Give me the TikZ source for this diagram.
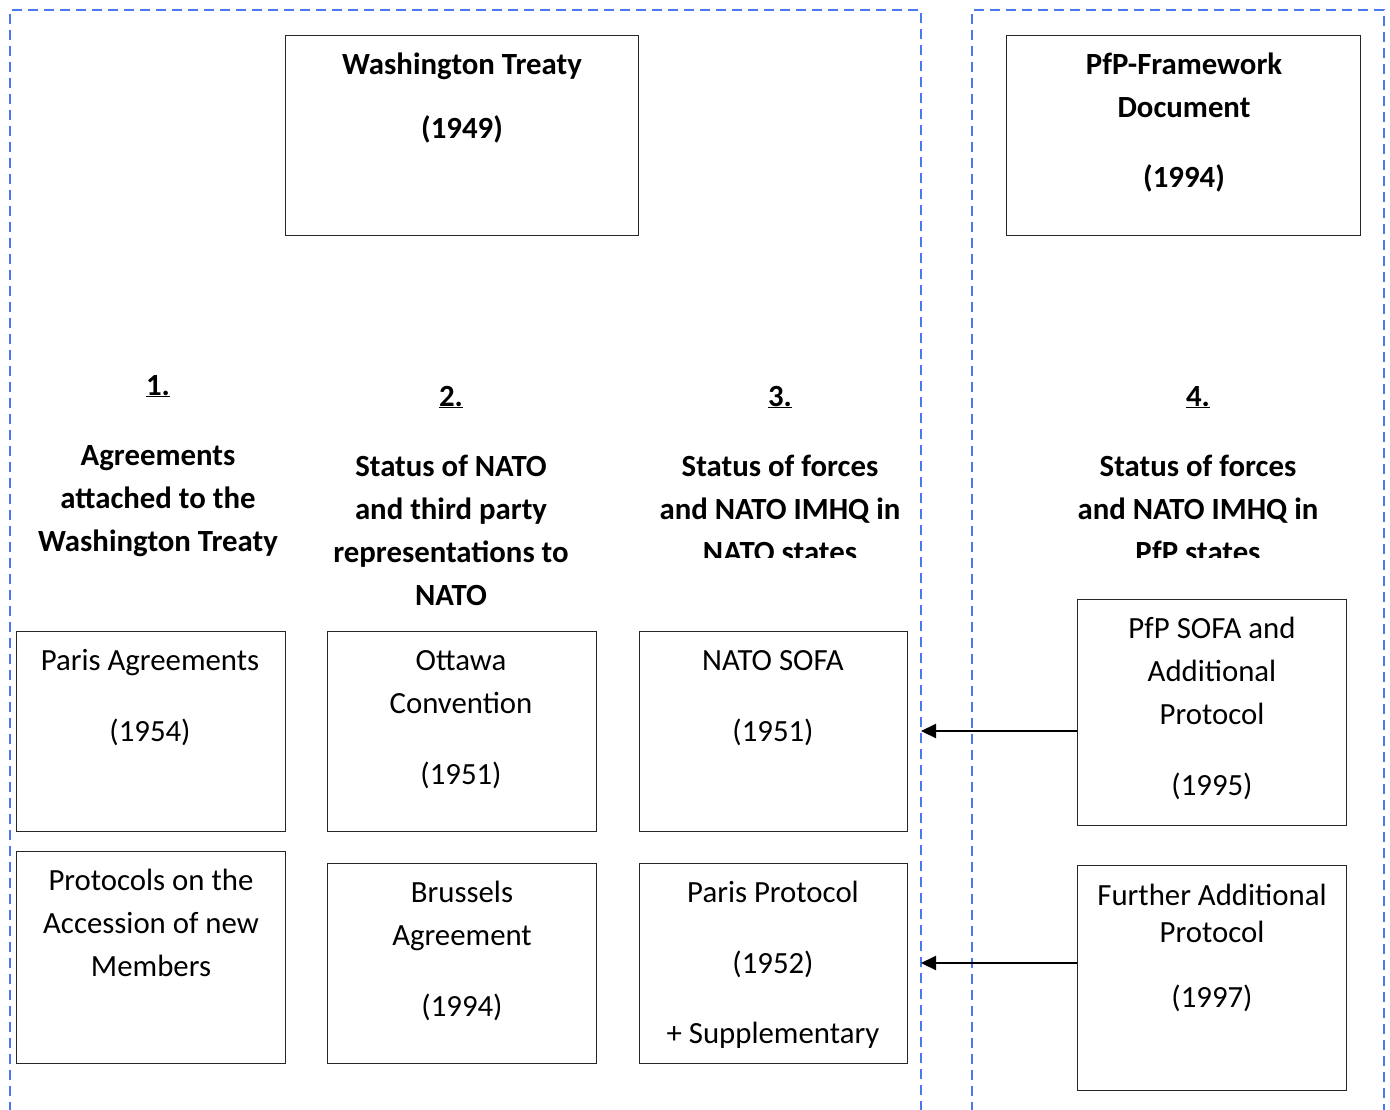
\documentclass[tikz,border=0pt]{standalone}
\usepackage{fontspec}
\setmainfont{Carlito}
\usetikzlibrary{arrows.meta}
\definecolor{frameblue}{HTML}{4A78F0}
\begin{document}
\begin{tikzpicture}[x=1pt,y=-1pt,
  frame/.style={draw=frameblue,line width=1.8pt,dash pattern=on 10pt off 6pt},
  box/.style={draw=black!85,line width=1.3pt,anchor=north west,inner sep=0pt},
  tx/.style={anchor=base,inner sep=0pt,font=\fontsize{30.8}{43}\selectfont},
  tb/.style={tx,font=\fontsize{30.8}{43}\selectfont\bfseries},
  arr/.style={line width=2.2pt,-{Triangle[length=15pt,width=14pt]}}]
\useasboundingbox (0,0) rectangle (1390,1110);
% frames
\draw[frame] (10,1112) -- (10,10) -- (921,10) -- (921,1112);
\draw[frame] (972,1112) -- (972,10) -- (1384,10) -- (1384,1112);
% top boxes
\node[box,minimum width=353pt,minimum height=200pt] (wt) at (285,35) {};
\node[tb] (wt1) at (462,75) {Washington Treaty};
\node[tb] (wt2) at (462,139) {(1949)};
\node[box,minimum width=354pt,minimum height=200pt] (pf) at (1006,35) {};
\node[tb] (pf1) at (1184,75) {PfP-Framework};
\node[tb] (pf2) at (1184,118) {Document};
\node[tb] (pf3) at (1184,188) {(1994)};
% headers
\node[tb] (h1) at (158,395) {\underline{1.}};
\node[tb] (h1a) at (158,465) {Agreements};
\node[tb] (h1b) at (158,508) {attached to the};
\node[tb] (h1c) at (158,551) {Washington Treaty};
\node[tb] (h2) at (451,406) {\underline{2.}};
\node[tb] (h2a) at (451,476) {Status of NATO};
\node[tb] (h2b) at (451,519) {and third party};
\node[tb] (h2c) at (451,562) {representations to};
\node[tb] (h2d) at (451,605) {NATO};
\node[tb] (h3) at (780,406) {\underline{3.}};
\node[tb] (h4) at (1198,406) {\underline{4.}};
\begin{scope}
\clip (600,0) rectangle (1390,557);
\node[tb] (h3a) at (780,476) {Status of forces};
\node[tb] (h3b) at (780,519) {and NATO IMHQ in};
\node[tb] (h3c) at (780,562) {NATO states};
\node[tb] (h4a) at (1198,476) {Status of forces};
\node[tb] (h4b) at (1198,519) {and NATO IMHQ in};
\node[tb] (h4c) at (1198,562) {PfP states};
\end{scope}
% row 1 boxes
\node[box,minimum width=269pt,minimum height=200pt] (pa) at (16,631) {};
\node[tx] (pa1) at (150,670) {Paris Agreements};
\node[tx] (pa2) at (150,741) {(1954)};
\node[box,minimum width=269pt,minimum height=200pt] (oc) at (327,631) {};
\node[tx] (oc1) at (461,670) {Ottawa};
\node[tx] (oc2) at (461,713) {Convention};
\node[tx] (oc3) at (461,784) {(1951)};
\node[box,minimum width=268pt,minimum height=200pt] (ns) at (639,631) {};
\node[tx] (ns1) at (773,670) {NATO SOFA};
\node[tx] (ns2) at (773,741) {(1951)};
\node[box,minimum width=269pt,minimum height=226pt] (ps) at (1077,599) {};
\node[tx] (ps1) at (1212,638) {PfP SOFA and};
\node[tx] (ps2) at (1212,681) {Additional};
\node[tx] (ps3) at (1212,724) {Protocol};
\node[tx] (ps4) at (1212,795) {(1995)};
% row 2 boxes
\node[box,minimum width=269pt,minimum height=212pt] (pr) at (16,851) {};
\node[tx] (pr1) at (151,890) {Protocols on the};
\node[tx] (pr2) at (151,933) {Accession of new};
\node[tx] (pr3) at (151,976) {Members};
\node[box,minimum width=269pt,minimum height=200pt] (ba) at (327,863) {};
\node[tx] (ba1) at (462,902) {Brussels};
\node[tx] (ba2) at (462,945) {Agreement};
\node[tx] (ba3) at (462,1016) {(1994)};
\node[box,minimum width=268pt,minimum height=200pt] (pp) at (639,863) {};
\node[tx] (pp1) at (773,902) {Paris Protocol};
\node[tx] (pp2) at (773,973) {(1952)};
\node[tx] (pp3) at (773,1043) {+ Supplementary};
\node[box,minimum width=269pt,minimum height=225pt] (fa) at (1077,865) {};
\node[tx] (fa1) at (1212,905) {Further Additional};
\node[tx] (fa2) at (1212,942) {Protocol};
\node[tx] (fa3) at (1212,1007) {(1997)};
% arrows
\coordinate (a1) at (921,731);
\coordinate (a2) at (921,963);
\draw[arr] (ps.west |- a1) -- (a1);
\draw[arr] (fa.west |- a2) -- (a2);
\end{tikzpicture}
\end{document}
